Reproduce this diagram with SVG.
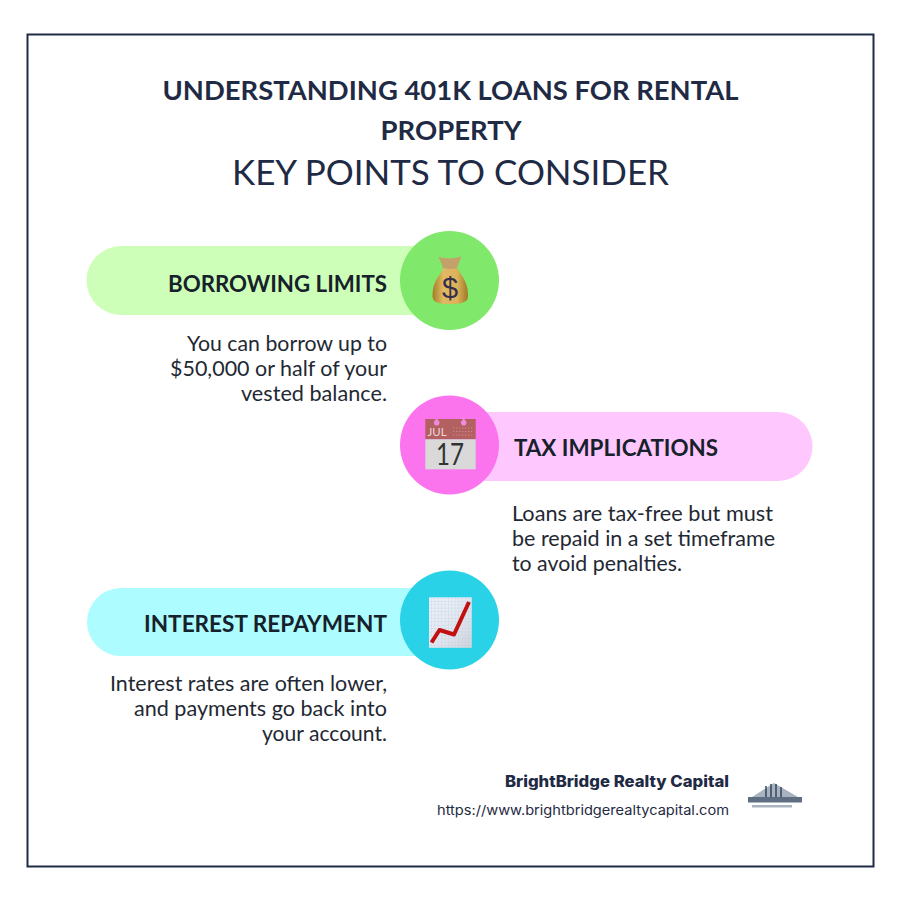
<svg xmlns="http://www.w3.org/2000/svg" width="900" height="900" viewBox="0 0 900 900">
<style>
text{font-family:"Lato","Noto Sans","Liberation Sans",sans-serif;fill:#1f2a44}
.t{font-size:27px;font-weight:700;text-anchor:middle}
.s{font-size:34px;text-anchor:middle}
.h{font-size:22.500px;font-weight:700;fill:#16212b}
.b{font-size:20.500px;fill:#1f2933}
.e{text-anchor:end}
.f{font-family:"Inter","Noto Sans",sans-serif;text-anchor:end}
</style>
<defs>
<linearGradient id="bag" x1="0" x2="1" y1="0" y2="0"><stop offset="0" stop-color="#a47c28"/><stop offset=".3" stop-color="#e0b963"/><stop offset=".7" stop-color="#dcb25a"/><stop offset="1" stop-color="#a07826"/></linearGradient>
<linearGradient id="sheet" x1="0" x2="1" y1="0" y2="1"><stop offset="0" stop-color="#f0f1f6" stop-opacity="0"/><stop offset="1" stop-color="#b9bcc8" stop-opacity=".55"/></linearGradient>
<pattern id="grid" width="3.400" height="3.400" patternUnits="userSpaceOnUse"><rect width="3.400" height="3.400" fill="#eceef4"/><path d="M3.400 0V3.400M0 3.400H3.400" stroke="#bcd8f2" stroke-width=".8"/></pattern>
<filter id="soft" x="-10%" y="-10%" width="120%" height="120%"><feGaussianBlur stdDeviation=".7"/></filter>
</defs>
<rect width="900" height="900" fill="#fff"/>
<rect x="27.500" y="34.500" width="846" height="832" fill="#fff" stroke="#1f2a44" stroke-width="2"/>
<g id="title">
<text class="t" x="450.500" y="100" textLength="576" lengthAdjust="spacingAndGlyphs">UNDERSTANDING 401K LOANS FOR RENTAL</text>
<text class="t" x="451" y="140" textLength="141" lengthAdjust="spacingAndGlyphs">PROPERTY</text>
<text class="s" x="450.500" y="185" textLength="437" lengthAdjust="spacingAndGlyphs">KEY POINTS TO CONSIDER</text>
</g>
<g id="node-borrowing">
<path d="M121 246H450V315H121a34.500 34.500 0 0 1 0-69z" fill="#ceffb8"/>
<circle cx="449.500" cy="280.500" r="49.500" fill="#80e86a"/>
<path d="M438.500 257q11 3 23-.5l-3 7-2 6h-13l-2-6z" fill="#c4a06a"/>
<path d="M443.500 268q7 2 14 0c2 6 10.500 12 10.500 27 0 3-.5 5-2 6-3 2.500-10 3-16 3s-13-.5-15.500-3c-1.500-1.500-2-3-2-6 0-15 9-21 11-27z" fill="url(#bag)"/>
<text x="450" y="298" font-size="29" text-anchor="middle" style="fill:#36304a;font-family:'Liberation Sans',sans-serif">$</text>
<text class="h e" x="387" y="291.500" textLength="219" lengthAdjust="spacingAndGlyphs">BORROWING LIMITS</text>
<text class="b e" x="387" y="350.500" textLength="200" lengthAdjust="spacingAndGlyphs">You can borrow up to</text>
<text class="b e" x="387" y="375.500" textLength="217" lengthAdjust="spacingAndGlyphs">$50,000 or half of your</text>
<text class="b e" x="387" y="400.500" textLength="146" lengthAdjust="spacingAndGlyphs">vested balance.</text>
</g>
<g id="node-tax">
<path d="M450 412H778a34.500 34.500 0 0 1 0 69H450z" fill="#fec8fe"/>
<circle cx="449.500" cy="445" r="49.500" fill="#fb74ee"/>
<rect x="425.300" y="419" width="50.400" height="20.300" fill="#b26060"/>
<rect x="425.300" y="439.300" width="50.400" height="30" fill="#d9d9d9"/>
<circle cx="436.700" cy="422.700" r="2.800" fill="#f08adf"/><circle cx="463.700" cy="422.700" r="2.800" fill="#f08adf"/>
<path d="M436.700 419v2M463.700 417v4" stroke="#f08adf" stroke-width="2"/>
<text x="427.500" y="435.700" font-size="11.500" textLength="19" lengthAdjust="spacingAndGlyphs" style="fill:#ead8d8">JUL</text>
<path d="M453 428h20M453 431.500h20M453 435h20" stroke="#c98a8a" stroke-width="1.200" stroke-dasharray="1.300 1.700"/>
<text x="450" y="464.500" font-size="30" text-anchor="middle" textLength="28" lengthAdjust="spacingAndGlyphs" style="fill:#333">17</text>
<text class="h" x="514" y="455.500" textLength="204" lengthAdjust="spacingAndGlyphs">TAX IMPLICATIONS</text>
<text class="b" x="512" y="520.500" textLength="261" lengthAdjust="spacingAndGlyphs">Loans are tax-free but must</text>
<text class="b" x="512" y="545.500" textLength="263" lengthAdjust="spacingAndGlyphs">be repaid in a set timeframe</text>
<text class="b" x="512" y="570.500" textLength="170" lengthAdjust="spacingAndGlyphs">to avoid penalties.</text>
</g>
<g id="node-interest">
<path d="M121 588H450V656H121a34 34 0 0 1 0-68z" fill="#adfcff"/>
<circle cx="449.500" cy="620" r="49.500" fill="#29d2e6"/>
<rect x="429" y="597.300" width="42.700" height="50.400" fill="url(#grid)"/>
<rect x="429" y="597.300" width="42.700" height="50.400" fill="url(#sheet)"/>
<path d="M431.500 642.500L439.500 630L454 634.500L469 602" fill="none" stroke="#c20f0f" stroke-width="4" stroke-linejoin="round"/>
<text class="h e" x="387" y="631.500" textLength="243" lengthAdjust="spacingAndGlyphs">INTEREST REPAYMENT</text>
<text class="b e" x="387" y="690.500" textLength="277" lengthAdjust="spacingAndGlyphs">Interest rates are often lower,</text>
<text class="b e" x="387" y="715.500" textLength="253" lengthAdjust="spacingAndGlyphs">and payments go back into</text>
<text class="b e" x="387" y="740.500" textLength="125" lengthAdjust="spacingAndGlyphs">your account.</text>
</g>
<g id="footer">
<text class="f" x="729" y="787" font-size="15.500" font-weight="800" textLength="224" lengthAdjust="spacingAndGlyphs">BrightBridge Realty Capital</text>
<text class="f" x="729" y="815" font-size="13.500" textLength="292" lengthAdjust="spacingAndGlyphs">https://www.brightbridgerealtycapital.com</text>
</g>
<g id="logo" filter="url(#soft)">
<path d="M752 797L774 783L798 797z" fill="#a9b3c0"/>
<path d="M766 786v11M771 784v13M776 784v13M781 787v10" stroke="#33465e" stroke-width="1.500"/>
<rect x="748" y="797" width="54" height="5.500" fill="#5f6e82"/>
<rect x="752" y="805" width="40" height="2.500" fill="#aab3bf"/>
</g>
</svg>
